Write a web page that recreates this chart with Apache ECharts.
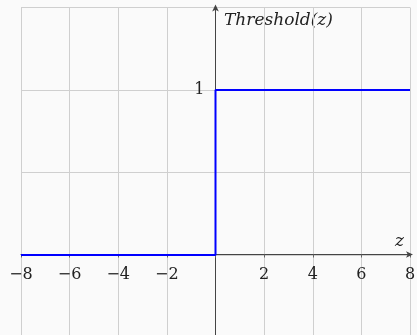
<!DOCTYPE html>
<html>
<head>
<meta charset="utf-8">
<script src="https://cdn.jsdelivr.net/npm/echarts@6/dist/echarts.min.js"></script>
<style>html,body{margin:0;padding:0;background:#fafafa;}#c{width:417px;height:335px;}</style>
</head>
<body>
<div id="c"></div>
<script>
const zValues = [-8, 0, 0, 8];
const thresholdValues = [0, 0, 1, 1];
const xTicks = [-8, -6, -4, -2, 2, 4, 6, 8];
const yTicks = [1];
const yName = 'Threshold(z)';
const xName = 'z';

const chart = echarts.init(document.getElementById('c'), null, {renderer: 'canvas'});
const serif = 'DejaVu Serif';
chart.setOption({
  backgroundColor: '#fafafa',
  animation: false,
  grid: {left: 21, right: 7, top: 7.5, bottom: -2.5, containLabel: false, outerBoundsMode: 'none'},
  xAxis: {
    type: 'value', min: -8, max: 8, interval: 2, position: 'bottom', offset: -83,
    axisLine: {onZero: false, lineStyle: {color: '#444', width: 1}, symbol: ['none', 'arrow'], symbolSize: [5, 7], symbolOffset: [0, 3]},
    axisTick: {show: true, length: 3, inside: false, lineStyle: {color: '#666'}},
    axisLabel: {
      margin: 12, color: '#222', fontFamily: serif, fontSize: 16,
      formatter: v => xTicks.includes(v) ? String(v).replace('-', '\u2212') : ''
    },
    splitLine: {show: true, lineStyle: {color: '#cfcfcf', width: 1}}
  },
  yAxis: {
    type: 'value', min: -0.5, max: 1.5, interval: 0.5, position: 'left', offset: -194.5,
    axisLine: {onZero: false, lineStyle: {color: '#444', width: 1}, symbol: ['none', 'arrow'], symbolSize: [5, 7], symbolOffset: [0, 3]},
    axisTick: {show: false},
    axisLabel: {
      margin: 11, color: '#222', fontFamily: serif, fontSize: 16, padding: [3, 0, 0, 0],
      formatter: v => yTicks.includes(v) ? String(v) : ''
    },
    splitLine: {show: true, lineStyle: {color: '#cfcfcf', width: 1}}
  },
  graphic: [
    {type: 'text', left: 224, top: 12, style: {text: yName, font: 'italic 17px "DejaVu Serif"', fill: '#222'}},
    {type: 'text', left: 395, top: 233, style: {text: xName, font: 'italic 17px "DejaVu Serif"', fill: '#222'}}
  ],
  series: [{
    type: 'line',
    data: zValues.map((z, i) => [z, thresholdValues[i]]),
    showSymbol: false,
    lineStyle: {color: '#0000ff', width: 2},
    z: 10
  }]
});
</script>
</body>
</html>
